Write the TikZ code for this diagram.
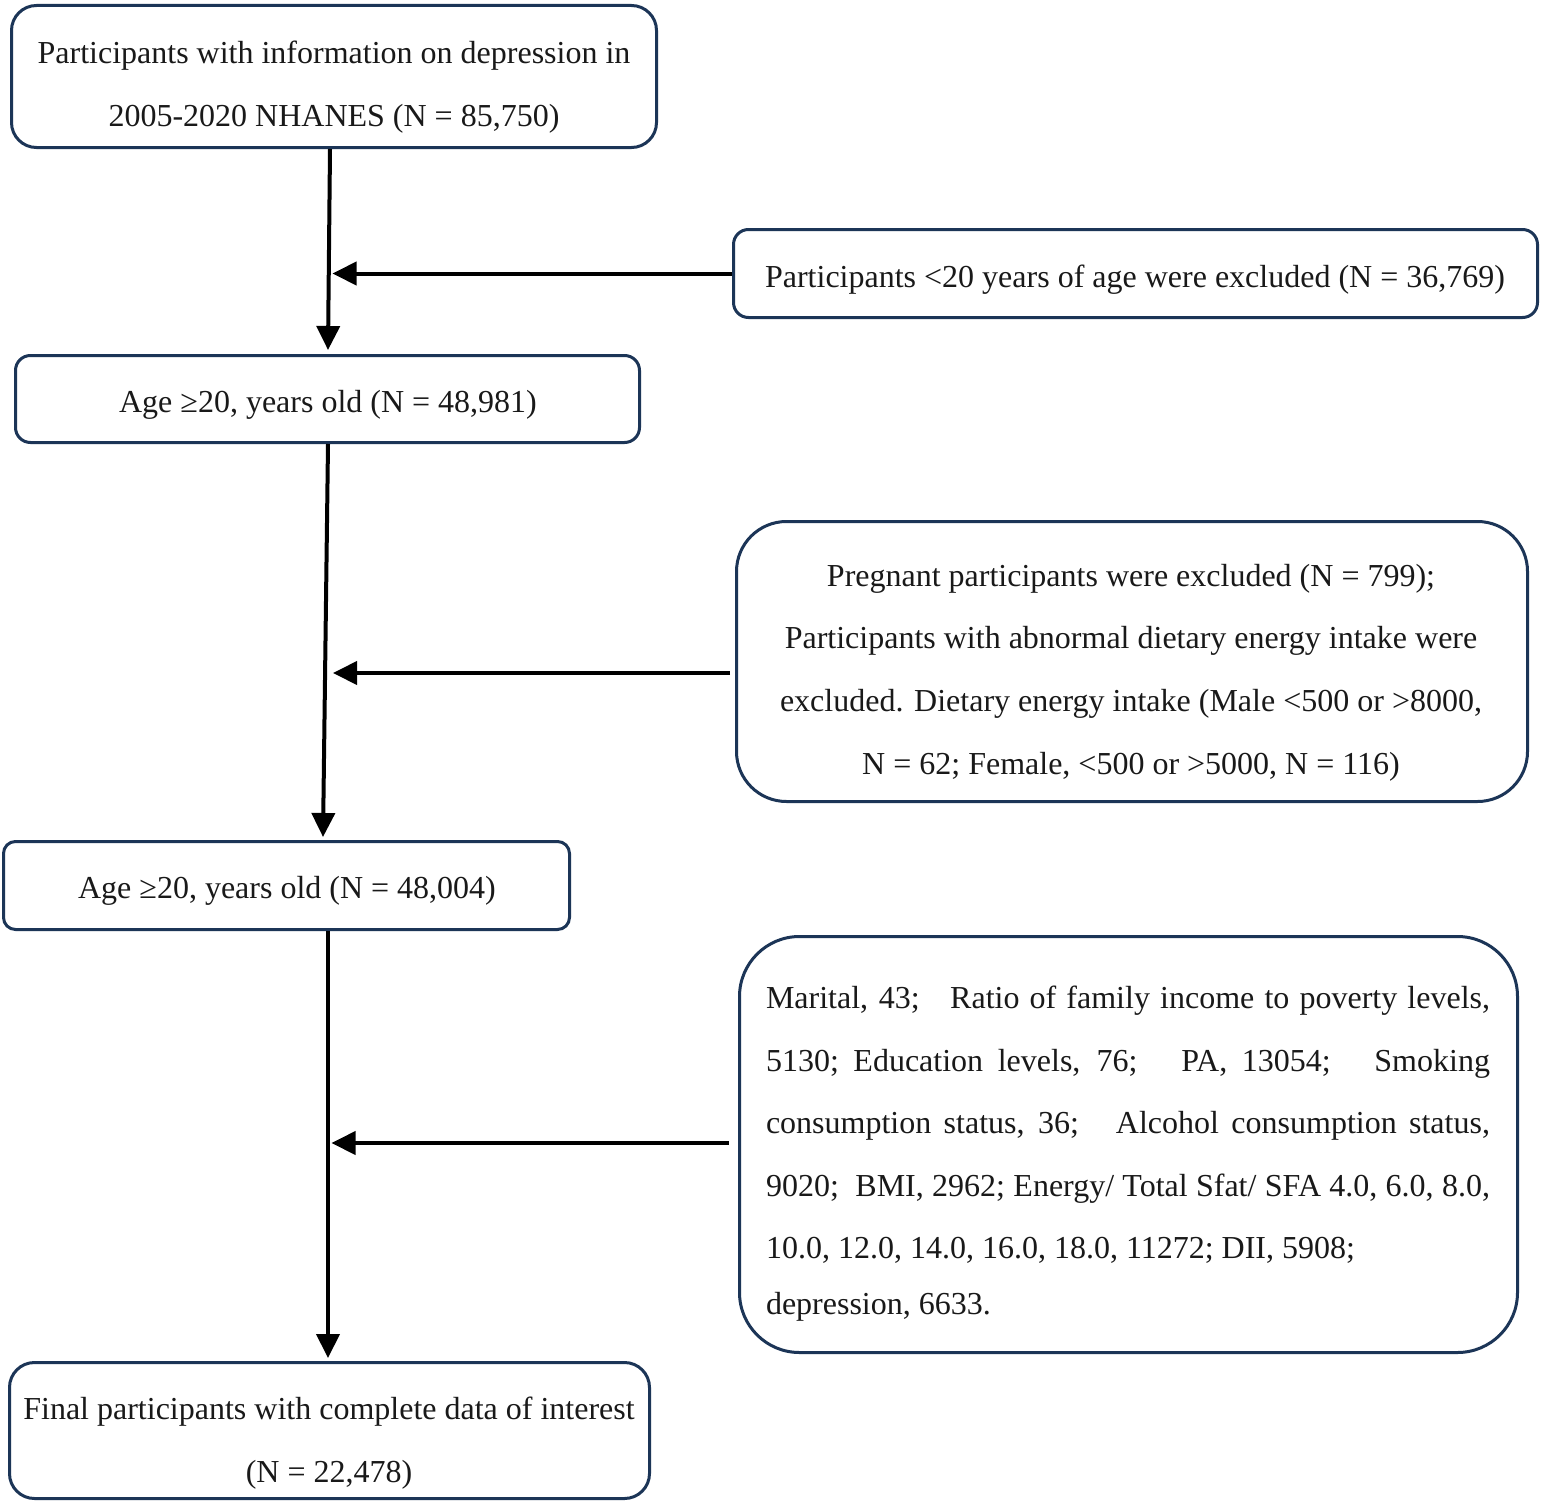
\documentclass[tikz,border=0pt]{standalone}
\usepackage{fontspec}
\setmainfont{Liberation Serif}
\usetikzlibrary{arrows.meta,calc}
\definecolor{boxblue}{HTML}{1C3557}
\begin{document}
\begin{tikzpicture}[x=1pt,y=-1pt,
  box/.style={draw=boxblue, line width=3pt, rounded corners=#1, inner sep=0pt},
  txt/.style={font=\fontsize{32}{63}\selectfont, align=center, inner sep=0pt, text=black!90},
  arr/.style={draw=black, line width=4pt, -{Triangle[length=24pt,width=23pt]}}]
\useasboundingbox (0,0) rectangle (1542,1504);
\fill[white] (0,0) rectangle (1542,1504);
% boxes
\node[box=25pt, minimum width=645pt, minimum height=142pt] (A) at (334,76.5) {};
\node[box=15pt, minimum width=804pt, minimum height=88pt] (B) at (1135.5,273.5) {};
\node[box=15pt, minimum width=624pt, minimum height=87pt] (C) at (327.5,399) {};
\node[box=50pt, minimum width=791pt, minimum height=280pt] (D) at (1132,661.5) {};
\node[box=12pt, minimum width=566pt, minimum height=88pt] (E) at (286.5,885.5) {};
\node[box=60pt, minimum width=778pt, minimum height=416pt] (F) at (1128.5,1144.5) {};
\node[box=25pt, minimum width=640pt, minimum height=136pt] (G) at (329.5,1430.5) {};
% texts
\node[txt] (tA) at (334,87) {Participants with information on depression in\\2005-2020 NHANES (N = 85,750)};
\node[txt] (tB) at (1135,279.5) {Participants <20 years of age were excluded (N = 36,769)};
\node[txt] (tC) at (328,404.5) {Age ≥20, years old (N = 48,981)};
\node[txt, font=\fontsize{32}{62.7}\selectfont] (tD) at (1131,672.5) {Pregnant participants were excluded (N = 799);\\Participants with abnormal dietary energy intake were\\excluded. Dietary energy intake (Male <500 or >8000,\\N = 62; Female, <500 or >5000, N = 116)};
\node[txt] (tE) at (287,890.5) {Age ≥20, years old (N = 48,004)};
\node[txt, align=left, font=\fontsize{32}{62.5}\selectfont] (tF) at (1128,1153.5) {%
\makebox[724pt][s]{Marital, 43;\ \ \ Ratio of family income to poverty levels,}\\
\makebox[724pt][s]{5130;\ Education levels, 76;\ \ \ PA, 13054;\ \ \ Smoking}\\
\makebox[724pt][s]{consumption status, 36;\ \ \ Alcohol consumption status,}\\
\makebox[724pt][s]{9020;\ \ BMI, 2962; Energy/ Total Sfat/ SFA 4.0, 6.0, 8.0,}\\
10.0, 12.0, 14.0, 16.0, 18.0, 11272; DII, 5908;\\[-7pt]
depression, 6633.};
\node[txt] (tG) at (329,1443.5) {Final participants with complete data of interest\\(N = 22,478)};
% arrows
\draw[arr] ($(A.south)+(-4,0)$) -- ($(C.north)+(0.5,-4)$);
\draw[arr] ($(C.south)+(0.5,0)$) -- ($(E.north)+(36.5,-3)$);
\draw[arr] ($(E.south)+(41.5,0)$) -- ($(G.north)+(-1.5,-3)$);
\draw[arr] (B.west) -- ($(B.west)+(-399.5,0)$);
\draw[arr] ($(D.west)+(-5,11.5)$) -- ($(D.west)+(-402,11.5)$);
\draw[arr] ($(F.west)+(-9.5,-1.5)$) -- ($(F.west)+(-406.5,-1.5)$);
\end{tikzpicture}
\end{document}
